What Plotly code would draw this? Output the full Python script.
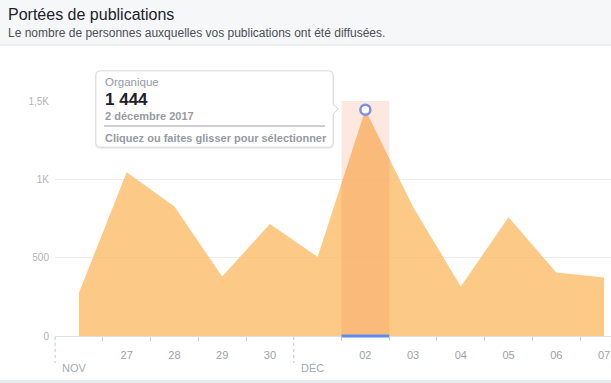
import plotly.graph_objects as go
from datetime import datetime, timedelta

# ---- data ----
dates = ["2017-11-26", "2017-11-27", "2017-11-28", "2017-11-29", "2017-11-30",
         "2017-12-01", "2017-12-02", "2017-12-03", "2017-12-04", "2017-12-05",
         "2017-12-06", "2017-12-07"]
organique = [276, 1045, 826, 379, 715, 505, 1444, 824, 316, 758, 405, 374]
day_labels = ["", "27", "28", "29", "30", "", "02", "03", "04", "05", "06", "07"]
y_ticks = [0, 500, 1000, 1500]
y_labels = ["0", "500", "1K", "1,5K"]
months = [("NOV", "2017-11-26"), ("DÉC", "2017-12-01")]
selected_index = 6
series_name = "Organique"
title = "Portées de publications"
subtitle = "Le nombre de personnes auxquelles vos publications ont été diffusées."
hint = "Cliquez ou faites glisser pour sélectionner"

W, H = 611, 383
ML, MR, MT, MB = 55, 0, 101, 47
PW, PH = W - ML - MR, H - MT - MB


def px(x):
    return (x - ML) / PW


def py(y):
    return (H - MB - y) / PH


def dt(s):
    return datetime.strptime(s, "%Y-%m-%d")


half = timedelta(hours=12)
boundaries = [dt(d) + half for d in dates[:-1]]
month_bounds = [dt(d) - half for _, d in months]
minor_ticks = [b for b in boundaries if b not in month_bounds]

x_range = [dt(dates[0]) - timedelta(hours=12.05), dt(dates[-1]) + timedelta(hours=3.5)]


def date_to_paper(d):
    return (d - x_range[0]) / (x_range[1] - x_range[0])


sel_date = dt(dates[selected_index])
sel_val = organique[selected_index]
y_max = y_ticks[-1]

FONT = "Liberation Sans, Arial, Helvetica, sans-serif"
GRAY = "#969aa2"

fig = go.Figure()

fig.add_trace(go.Scatter(
    x=dates, y=organique, mode="lines", fill="tozeroy",
    line=dict(width=0, color="rgba(252,191,114,0.85)"),
    fillcolor="rgba(252,191,114,0.85)", hoverinfo="skip", showlegend=False))

# highlighted day band
fig.add_trace(go.Scatter(
    x=[sel_date - half, sel_date + half, sel_date + half, sel_date - half, sel_date - half],
    y=[0, 0, y_max, y_max, 0], mode="lines", fill="toself",
    line=dict(width=0), fillcolor="rgba(240,100,50,0.15)",
    hoverinfo="skip", showlegend=False))

fig.add_trace(go.Scatter(
    x=[dates[selected_index]], y=[sel_val], mode="markers",
    marker=dict(size=10, color="white", line=dict(width=2.5, color="#7b8fe3")),
    hoverinfo="skip", showlegend=False, cliponaxis=False))

shapes = []
# header
shapes.append(dict(type="rect", xref="paper", yref="paper", x0=px(0), x1=px(W),
                   y0=py(0), y1=py(44.5), fillcolor="#f6f7f9", line=dict(width=0), layer="below"))
shapes.append(dict(type="line", xref="paper", yref="paper", x0=px(0), x1=px(W),
                   y0=py(45), y1=py(45), line=dict(color="#dddfe2", width=1)))
# bottom strip
shapes.append(dict(type="rect", xref="paper", yref="paper", x0=px(0), x1=px(W),
                   y0=py(380), y1=py(384), fillcolor="#e9ebee", line=dict(width=0)))
# month dashed separators
for b in month_bounds:
    xp = date_to_paper(b)
    shapes.append(dict(type="line", xref="paper", yref="paper", x0=xp, x1=xp,
                       y0=py(337), y1=py(363), line=dict(color="#c4c7cc", width=1, dash="dot")))
# selection underline
shapes.append(dict(type="line", xref="paper", yref="paper",
                   x0=date_to_paper(sel_date - half), x1=date_to_paper(sel_date + half),
                   y0=0, y1=0, line=dict(color="#5b8def", width=3), layer="above"))

# tooltip box
bx0, bx1, by0, by1, r = 96, 333, 71, 147, 4


def rounded(x0, x1, y0, y1, r, arrow=None):
    pts = [f"M {px(x0 + r)} {py(y0)}", f"L {px(x1 - r)} {py(y0)}",
           f"Q {px(x1)} {py(y0)} {px(x1)} {py(y0 + r)}"]
    if arrow:
        ay = arrow
        pts += [f"L {px(x1)} {py(ay - 5)}", f"L {px(x1 + 5)} {py(ay)}", f"L {px(x1)} {py(ay + 5)}"]
    pts += [f"L {px(x1)} {py(y1 - r)}",
            f"Q {px(x1)} {py(y1)} {px(x1 - r)} {py(y1)}", f"L {px(x0 + r)} {py(y1)}",
            f"Q {px(x0)} {py(y1)} {px(x0)} {py(y1 - r)}", f"L {px(x0)} {py(y0 + r)}",
            f"Q {px(x0)} {py(y0)} {px(x0 + r)} {py(y0)}", "Z"]
    return " ".join(pts)


shapes.append(dict(type="path", xref="paper", yref="paper",
                   path=rounded(bx0 - 1, bx1 + 1, by0 - 0.5, by1 + 2, r + 1, arrow=109),
                   fillcolor="rgba(0,0,0,0.07)", line=dict(width=0), layer="above"))
shapes.append(dict(type="path", xref="paper", yref="paper",
                   path=rounded(bx0, bx1, by0, by1, r, arrow=109),
                   fillcolor="white", line=dict(color="rgba(0,0,0,0.10)", width=1), layer="above"))
shapes.append(dict(type="line", xref="paper", yref="paper", x0=px(104), x1=px(325),
                   y0=py(126), y1=py(126), line=dict(color="#9da0a8", width=1), layer="above"))

annotations = [
    dict(text=title, x=px(6), y=py(14), xref="paper", yref="paper", xanchor="left",
         yanchor="middle", showarrow=False, font=dict(family=FONT, size=16, color="#1d2129")),
    dict(text=subtitle, x=px(6), y=py(33), xref="paper", yref="paper", xanchor="left",
         yanchor="middle", showarrow=False, font=dict(family=FONT, size=12, color="#4b4f56")),
    dict(text=series_name, x=px(103), y=py(82), xref="paper", yref="paper", xanchor="left",
         yanchor="middle", showarrow=False, font=dict(family=FONT, size=11.5, color=GRAY)),
    dict(text="<b>" + f"{sel_val:,}".replace(",", " ") + "</b>", x=px(103), y=py(99),
         xref="paper", yref="paper", xanchor="left", yanchor="middle", showarrow=False,
         font=dict(family=FONT, size=17, color="#1d2129")),
    dict(text="<b>%d décembre %d</b>" % (sel_date.day, sel_date.year), x=px(103), y=py(116),
         xref="paper", yref="paper", xanchor="left", yanchor="middle", showarrow=False,
         font=dict(family=FONT, size=11, color=GRAY)),
    dict(text="<b>" + hint + "</b>", x=px(103), y=py(137.5), xref="paper", yref="paper",
         xanchor="left", yanchor="middle", showarrow=False,
         font=dict(family=FONT, size=11, color=GRAY)),
]
for name, d in months:
    annotations.append(dict(text=name, x=date_to_paper(dt(d) - half), y=py(368),
                            xref="paper", yref="paper",
                            xanchor="left", yanchor="middle", xshift=5, showarrow=False,
                            font=dict(family=FONT, size=11, color="#a7abb1")))

fig.update_layout(
    width=W, height=H, margin=dict(l=ML, r=MR, t=MT, b=MB),
    paper_bgcolor="white", plot_bgcolor="white",
    shapes=shapes, annotations=annotations, showlegend=False,
    xaxis=dict(
        type="date", range=x_range,
        tickmode="array", tickvals=dates, ticktext=day_labels, ticks="",
        tickfont=dict(family=FONT, size=11, color="#9ea2a8"), ticklabelstandoff=9,
        showgrid=False, zeroline=False, showline=True, linecolor="#dddfe2", linewidth=1,
        minor=dict(tickmode="array", tickvals=minor_ticks, ticks="outside", ticklen=4,
                   tickcolor="#ccd0d5", showgrid=False),
        fixedrange=True),
    yaxis=dict(
        range=[0, y_max], tickmode="array", tickvals=y_ticks, ticktext=y_labels,
        tickfont=dict(family=FONT, size=10, color="#b0b4ba"), ticks="", ticklabelstandoff=5,
        showgrid=True, gridcolor="#ebedf0", gridwidth=1, zeroline=False, showline=False,
        fixedrange=True),
)

fig.write_html("out.html", config={"displayModeBar": False},
               post_script="document.body.style.margin='0';document.body.style.overflow='hidden';")
